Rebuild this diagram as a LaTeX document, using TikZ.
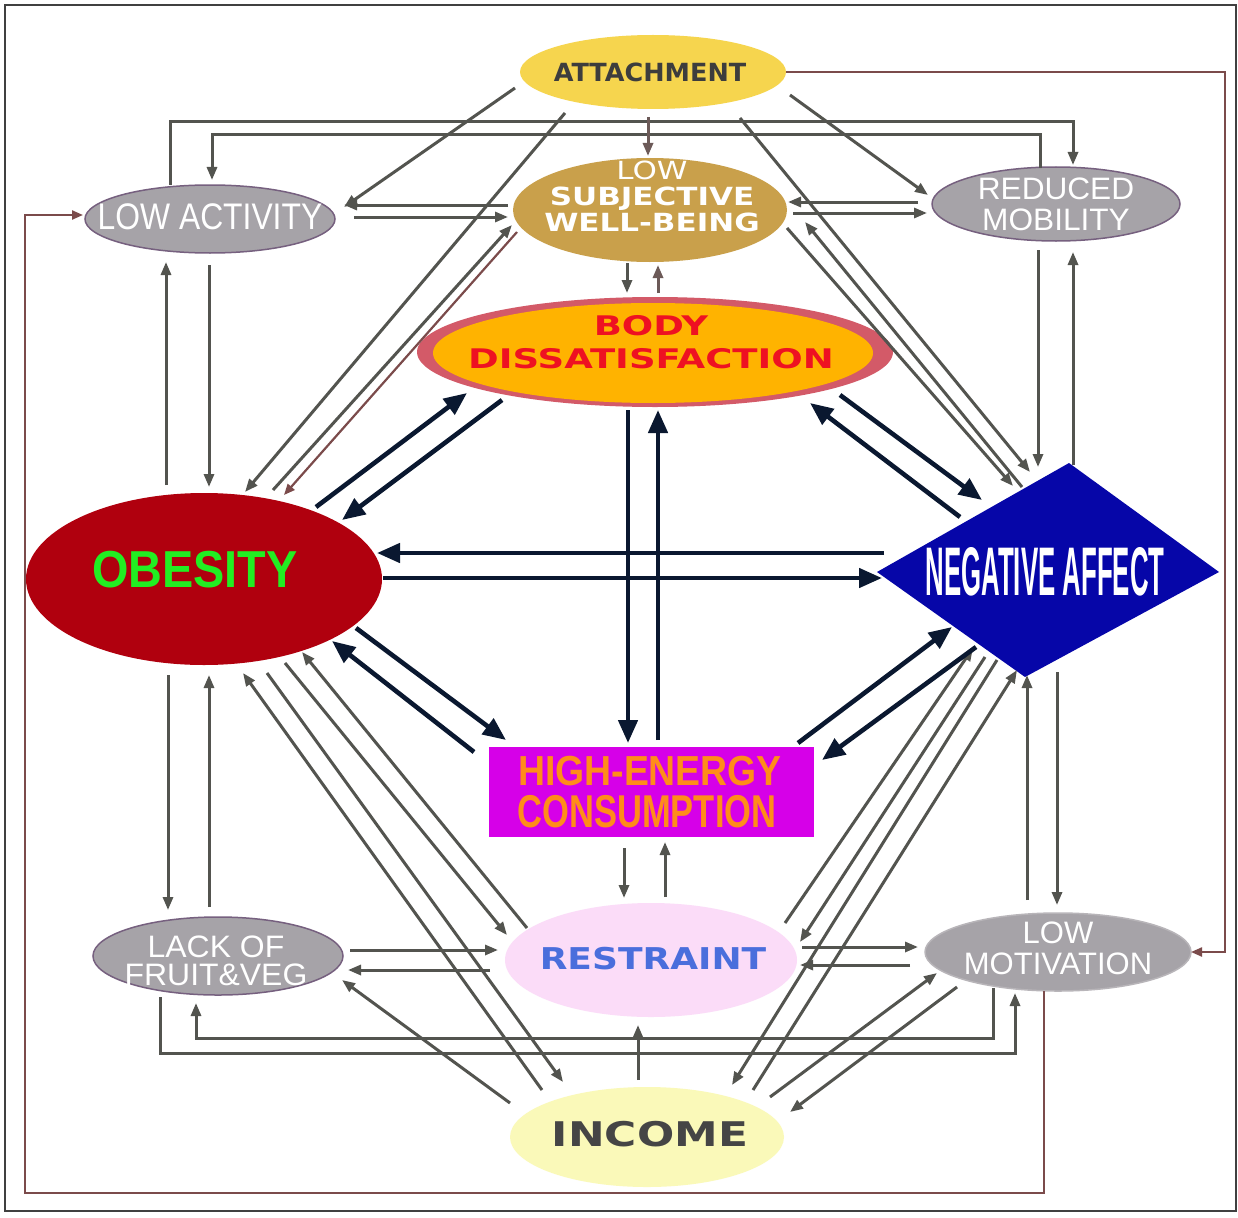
\documentclass[tikz,border=0pt]{standalone}
\usepackage{fontspec}
\usepackage{graphicx}
\usetikzlibrary{shapes.geometric,arrows.meta,calc}
\newfontfamily\dvs{DejaVu Sans}
\newfontfamily\lib{Liberation Sans}
\newcommand{\sxt}[2]{\scalebox{#1}[1]{\begin{tabular}{@{}c@{}}#2\end{tabular}}}
\definecolor{cattach}{HTML}{F6D54E}
\definecolor{cattxt}{HTML}{3D3D3D}
\definecolor{clswb}{HTML}{C9A04B}
\definecolor{cgrayel}{HTML}{A6A3A8}
\definecolor{cpurple}{HTML}{76607F}
\definecolor{cring}{HTML}{D35A68}
\definecolor{cbd}{HTML}{FFB300}
\definecolor{cbdtxt}{HTML}{EE1122}
\definecolor{cobes}{HTML}{B0000E}
\definecolor{cobtxt}{HTML}{22EE22}
\definecolor{cna}{HTML}{0606A8}
\definecolor{che}{HTML}{D600E8}
\definecolor{chetxt}{HTML}{FF8C1A}
\definecolor{cre}{HTML}{FBDCF8}
\definecolor{cretxt}{HTML}{4A6EDC}
\definecolor{cinc}{HTML}{FAF9B9}
\definecolor{cinctxt}{HTML}{454545}
\definecolor{cgray}{HTML}{53544F}
\definecolor{cbrg}{HTML}{6C5A58}
\definecolor{cbrown}{HTML}{7B4B4B}
\definecolor{cnavy}{HTML}{0A1830}
\begin{document}
\begin{tikzpicture}[x=1pt,y=-1pt,
  ga/.style={draw=cgray, line width=3pt, -{Triangle[length=13pt,width=10pt]}},
  bg/.style={ga, draw=cbrg},
  br/.style={draw=cbrown, line width=2.2pt, -{Triangle[length=11pt,width=9pt]}},
  nv/.style={draw=cnavy, line width=4.6pt, -{Triangle[length=23pt,width=19pt]}},
  shp/.style={ellipse, inner sep=0pt, outer sep=0pt},
  gel/.style={shp, fill=cgrayel, draw=cpurple, line width=1.5pt},
  txt/.style={inner sep=0pt, outer sep=0pt}]
\useasboundingbox (0,0) rectangle (1238,1217);
\fill[white] (0,0) rectangle (1238,1217);
\draw[line width=1.2pt, draw=black!75] (5,5) rectangle (1236,1211);

% ---------- shapes ----------
\node[shp, fill=cattach, minimum width=266pt, minimum height=74pt] (attach) at (653,72) {};
\node[txt, font=\dvs\bfseries\fontsize{25}{30}\selectfont, text=cattxt] (attach-t) at (650,75.1) {\sxt{1.02}{ATTACHMENT}};

\node[shp, fill=clswb, minimum width=274pt, minimum height=104pt] (lswb) at (650,210) {};
\node[txt, font=\dvs\bfseries\fontsize{25}{25}\selectfont, text=white] (lswb-t) at (652,200) {\sxt{1.24}{{\mdseries LOW}\\SUBJECTIVE\\WELL-BEING}};

\node[gel, minimum width=250pt, minimum height=68pt] (lowact) at (210,219) {};
\node[txt, font=\lib\fontsize{37}{40}\selectfont, text=white] (lowact-t) at (210,221.2) {\sxt{0.86}{LOW ACTIVITY}};

\node[gel, minimum width=248pt, minimum height=74pt] (redmob) at (1056,204) {};
\node[txt, font=\lib\fontsize{31}{31}\selectfont, text=white] (redmob-t) at (1056,208.4) {\sxt{1.02}{REDUCED\\MOBILITY}};

\node[shp, fill=cring, minimum width=476pt, minimum height=110pt] (bdring) at (655,352) {};
\node[shp, fill=cbd, minimum width=440pt, minimum height=100pt] (bd) at (653,353) {};
\node[txt, font=\dvs\bfseries\fontsize{27}{33}\selectfont, text=cbdtxt] (bd-t) at (651,345) {\sxt{1.37}{BODY\\DISSATISFACTION}};

\node[shp, fill=cobes, minimum width=356pt, minimum height=172pt] (obesity) at (204,579) {};
\node[txt, font=\lib\bfseries\fontsize{52}{60}\selectfont, text=cobtxt] (obesity-t) at (195,575.1) {\sxt{0.9}{OBESITY}};

\coordinate (na) at (1047,572);
\fill[cna] ($(na)+(-170,0)$) -- ($(na)+(22,-109)$) -- ($(na)+(172,0)$) -- ($(na)+(-22,105)$) -- cycle;
\node[txt, anchor=base, font=\lib\bfseries\fontsize{43}{50}\selectfont, text=white] (negaff) at (1045,595) {\scalebox{0.6}[1.6]{NEGATIVE AFFECT}};

\node[rectangle, fill=che, inner sep=0pt, outer sep=0pt, minimum width=325pt, minimum height=90pt] (he) at (651,792) {};
\node[txt, anchor=base, font=\lib\bfseries\fontsize{42}{43}\selectfont, text=chetxt] (he-t1) at (650,785) {\scalebox{0.89}[1]{HIGH-ENERGY}};
\node[txt, anchor=base, font=\lib\bfseries\fontsize{46}{43}\selectfont, text=chetxt] (he-t2) at (647,827) {\scalebox{0.75}[1]{CONSUMPTION}};

\node[shp, fill=cre, minimum width=292pt, minimum height=114pt] (re) at (651,960) {};
\node[txt, font=\dvs\bfseries\fontsize{30}{36}\selectfont, text=cretxt] (re-t) at (653,962.7) {\sxt{1.2}{RESTRAINT}};

\node[shp, fill=cinc, minimum width=274pt, minimum height=100pt] (income) at (647,1137) {};
\node[txt, font=\dvs\bfseries\fontsize{34}{40}\selectfont, text=cinctxt] (income-t) at (650,1138.9) {\sxt{1.29}{INCOME}};

\node[gel, minimum width=250pt, minimum height=78pt] (lf) at (218,956) {};
\node[txt, font=\lib\fontsize{31}{23}\selectfont, text=white] (lf-t) at (216,964) {\sxt{1.03}{LACK OF\\FRUIT\&VEG}};

\node[gel, draw=cgrayel!80!white, minimum width=266pt, minimum height=78pt] (lm) at (1058,952) {};
\node[txt, font=\lib\fontsize{31}{30}\selectfont, text=white] (lm-t) at (1058,952.6) {\sxt{1.0}{LOW\\MOTIVATION}};

% ---------- brown loops ----------
\draw[br] (attach.east) -| ($(lm.east)+(34,0)$) -- (lm.east);
\draw[br] ($(lm)+(-14,39)$) -- ++(0,202) -| ($(lowact)+(-185,-4)$) -- ($(lowact)+(-127,-4)$);
\draw[br] ($(lswb)+(-133,22)$) -- ($(obesity)+(80,-84)$);

% ---------- gray connectors ----------
\draw[ga] ($(lowact)+(-40,-34)$) |- ($(redmob)+(17,-82)$) -- ($(redmob)+(17,-39)$);
\draw[ga] ($(redmob)+(-16,-36)$) |- ($(lowact)+(2,-84)$) -- ($(lowact)+(2,-39)$);
\draw[bg] ($(attach)+(-5,45)$) -- ($(lswb)+(-2,-54)$);
\draw[ga] ($(attach)+(-138,16)$) -- ($(lowact)+(134,-12)$);
\draw[ga] ($(attach)+(-88,41)$) -- ($(obesity)+(41,-87)$);
\draw[ga] ($(lswb)+(-142,-5)$) -- ($(lowact)+(134,-14)$);
\draw[ga] ($(lowact)+(144,-2)$) -- ($(lswb)+(-142,7)$);
\draw[ga] ($(obesity)+(69,-89)$) -- ($(lswb)+(-138,15)$);
\draw[ga] ($(attach)+(137,23)$) -- ($(redmob)+(-128,-9)$);
\draw[ga] ($(attach)+(87,46)$) -- ($(na)+(-17,-100)$);
\draw[ga] ($(redmob)+(-138,-2)$) -- ($(lswb)+(138,-8)$);
\draw[ga] ($(lswb)+(143,3)$) -- ($(redmob)+(-129,9)$);
\draw[ga] ($(lswb)+(137,18)$) -- ($(na)+(-34,-86)$);
\draw[ga] ($(na)+(-25,-85)$) -- ($(lswb)+(155,12)$);
\draw[ga] ($(redmob)+(-18,46)$) -- ($(na)+(-9,-105)$);
\draw[ga] ($(na)+(26,-107)$) -- ($(redmob)+(17,48)$);
\draw[ga] ($(lswb)+(-23,53)$) -- ($(bd)+(-26,-60)$);
\draw[bg] ($(bd)+(5,-60)$) -- ($(lswb)+(8,55)$);
\draw[ga] ($(obesity)+(-38,-94)$) -- ($(lowact)+(-44,43)$);
\draw[ga] ($(lowact)+(-1,46)$) -- ($(obesity)+(5,-92)$);
\draw[ga] ($(obesity)+(-36,96)$) -- ($(lf)+(-50,-46)$);
\draw[ga] ($(lf)+(-9,-49)$) -- ($(obesity)+(5,96)$);
\draw[ga] ($(income)+(-105,-47)$) -- ($(obesity)+(39,94)$);
\draw[ga] ($(obesity)+(63,94)$) -- ($(income)+(-84,-55)$);
\draw[ga] ($(obesity)+(81,84)$) -- ($(re)+(-144,-25)$);
\draw[ga] ($(re)+(-124,-32)$) -- ($(obesity)+(98,73)$);
\draw[ga] ($(lf)+(132,-6)$) -- ($(re)+(-153,-10)$);
\draw[ga] ($(re)+(-161,10)$) -- ($(lf)+(130,14)$);
\draw[ga] ($(income)+(-137,-34)$) -- ($(lf)+(124,24)$);
\draw[ga] ($(lm)+(-65,36)$) |- ($(lf)+(-22,82)$) -- ($(lf)+(-22,47)$);
\draw[ga] ($(lf)+(-58,41)$) |- ($(lm)+(-43,101)$) -- ($(lm)+(-43,41)$);
\draw[ga] ($(income)+(-9,-57)$) -- ($(re)+(-13,65)$);
\draw[ga] ($(he)+(-27,56)$) -- ($(re)+(-27,-62)$);
\draw[ga] ($(re)+(14,-63)$) -- ($(he)+(14,50)$);
\draw[ga] ($(re)+(151,-13)$) -- ($(lm)+(-140,-5)$);
\draw[ga] ($(lm)+(-148,13)$) -- ($(re)+(149,5)$);
\draw[ga] ($(income)+(123,-40)$) -- ($(lm)+(-121,21)$);
\draw[ga] ($(lm)+(-101,35)$) -- ($(income)+(143,-25)$);
\draw[ga] ($(lm)+(-31,-52)$) -- ($(na)+(-20,103)$);
\draw[ga] ($(na)+(10,100)$) -- ($(lm)+(-1,-47)$);
\draw[ga] ($(re)+(134,-37)$) -- ($(na)+(-74,76)$);
\draw[ga] ($(na)+(-62,85)$) -- ($(re)+(149,-18)$);
\draw[ga] ($(na)+(-50,88)$) -- ($(income)+(85,-52)$);
\draw[ga] ($(income)+(106,-47)$) -- ($(na)+(-30,98)$);

% ---------- navy connectors ----------
\draw[nv] ($(obesity)+(112,-72)$) -- ($(bd)+(-186,40)$);
\draw[nv] ($(bd)+(-151,47)$) -- ($(obesity)+(138,-59)$);
\draw[nv] ($(na)+(-163,-19)$) -- ($(obesity)+(173,-26)$);
\draw[nv] ($(obesity)+(179,-1)$) -- ($(na)+(-165,6)$);
\draw[nv] ($(na)+(-87,-55)$) -- ($(bd)+(157,50)$);
\draw[nv] ($(bd)+(187,42)$) -- ($(na)+(-65,-72)$);
\draw[nv] ($(bd)+(-25,57)$) -- ($(he)+(-23,-49)$);
\draw[nv] ($(he)+(7,-52)$) -- ($(bd)+(5,57)$);
\draw[nv] ($(obesity)+(152,49)$) -- ($(he)+(-145,-52)$);
\draw[nv] ($(he)+(-177,-40)$) -- ($(obesity)+(128,62)$);
\draw[nv] ($(he)+(147,-49)$) -- ($(na)+(-95,55)$);
\draw[nv] ($(na)+(-71,75)$) -- ($(he)+(171,-32)$);
\end{tikzpicture}
\end{document}
